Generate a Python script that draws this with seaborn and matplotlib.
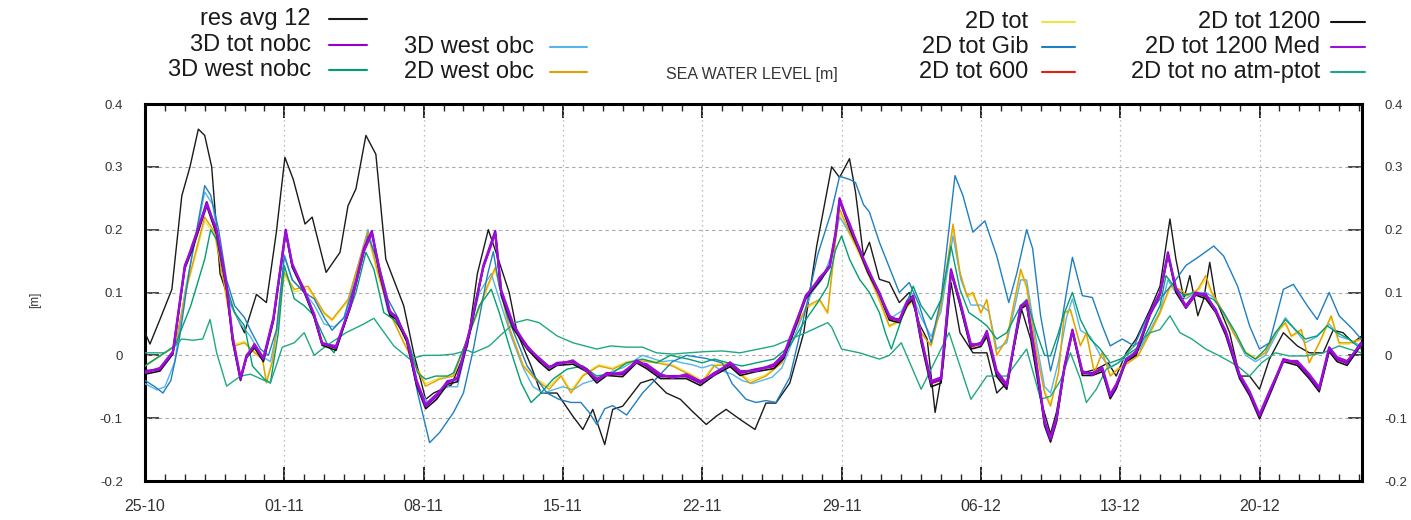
import pandas as pd
import matplotlib
matplotlib.use("Agg")
import matplotlib.pyplot as plt
import matplotlib.dates as mdates
from matplotlib.lines import Line2D
import seaborn as sns

START = pd.Timestamp("2019-10-25")

# ---- sea level residuals [m]; times are days after START ----
t_obs = [0, 0.25, 0.75, 1.35, 1.85, 2.26, 2.68, 3.0, 3.35, 3.77, 4.27, 5.0, 5.6, 6.1, 6.6,
         7.03, 7.45, 8.04, 8.4, 9.1, 9.8, 10.2, 10.6, 11.1, 11.6, 12.1, 13.0, 13.5, 14.1, 14.5,
         15.4, 16.2, 16.7, 17.25, 17.7, 18.3, 18.7, 19.4, 19.9, 20.7, 21.5, 22.0, 22.5, 23.1,
         23.5, 24.0, 24.9, 25.5, 26.2, 26.9, 27.5, 28.2, 28.7, 29.2, 29.9, 30.65, 31.2, 31.7,
         32.4, 33.1, 33.75, 34.5, 34.9, 35.4, 35.7, 36.1, 36.4, 36.9, 37.4, 37.9, 38.4, 38.95,
         39.3, 39.7, 40.1, 40.5, 40.95, 41.6, 42.3, 42.8, 43.3, 44.05, 44.5, 45.0, 45.5, 45.8,
         46.2, 46.6, 47.1, 47.8, 48.4, 48.8, 49.3, 49.8, 50.5, 51.0, 51.5, 51.8, 52.2, 52.5,
         52.9, 53.2, 53.5, 53.8, 54.5, 55.0, 55.5, 56.0, 56.5, 57.2, 57.9, 58.5, 59.2, 59.7,
         60.2, 60.7, 61.1]
res_avg_12 = [0.036, 0.018, 0.057, 0.105, 0.254, 0.300, 0.360, 0.350, 0.300, 0.130, 0.084,
              0.036, 0.097, 0.084, 0.196, 0.315, 0.280, 0.209, 0.220, 0.132, 0.164, 0.238,
              0.265, 0.350, 0.320, 0.153, 0.079, 0.004, -0.070, -0.060, -0.047, 0.015, 0.130,
              0.200, 0.158, 0.100, 0.036, -0.017, -0.060, -0.060, -0.097, -0.118, -0.086,
              -0.142, -0.086, -0.081, -0.044, -0.038, -0.060, -0.070, -0.089, -0.110, -0.097,
              -0.086, -0.102, -0.118, -0.076, -0.076, -0.044, 0.036, 0.174, 0.300, 0.283,
              0.313, 0.260, 0.158, 0.180, 0.121, 0.116, 0.084, 0.100, 0.047, 0.026, -0.091,
              -0.017, 0.116, 0.036, 0.004, 0.004, -0.060, -0.044, 0.073, 0.026, -0.070,
              -0.125, -0.090, -0.017, 0.040, -0.028, -0.022, -0.012, -0.033, 0.004, 0.026,
              0.073, 0.110, 0.217, 0.153, 0.090, 0.127, 0.063, 0.090, 0.148, 0.090, 0.036,
              -0.033, -0.033, -0.054, -0.006, 0.036, 0.015, 0.004, 0.004, 0.040, 0.036, 0.020,
              0.030]

t_tot = [0, 0.75, 1.4, 2.0, 2.4, 3.1, 3.6, 4.1, 4.4, 4.8, 5.1, 5.5, 5.95, 6.45, 7.07, 7.4,
         8.0, 8.5, 8.9, 9.6, 10.3, 11.0, 11.4, 11.8, 12.3, 12.6, 13.15, 13.65, 14.1, 14.65,
         15.2, 15.7, 16.3, 17.0, 17.6, 17.9, 18.5, 19.2, 19.8, 20.3, 20.7, 21.5, 22.2, 22.7,
         23.2, 24.0, 24.7, 25.2, 25.9, 26.5, 27.2, 27.9, 28.6, 29.4, 29.9, 30.7, 31.6, 32.1,
         32.6, 33.2, 33.9, 34.4, 34.7, 34.9, 35.4, 35.9, 36.3, 36.9, 37.4, 37.9, 38.3, 38.6,
         39.0, 39.5, 40.0, 40.5, 40.95, 41.5, 42.0, 42.3, 42.8, 43.3, 44.0, 44.3, 44.8, 45.2,
         45.5, 45.8, 46.2, 46.6, 47.1, 47.6, 48.1, 48.5, 48.8, 49.3, 49.8, 50.5, 51.0, 51.4,
         51.8, 52.3, 52.8, 53.3, 53.8, 54.3, 55.0, 55.5, 56.0, 56.5, 57.2, 57.9, 58.5, 59.0,
         59.5, 59.9, 60.4, 61.1]
tot_3d_nobc = [-0.025, -0.022, 0.004, 0.143, 0.174, 0.244, 0.196, 0.110, 0.026, -0.038,
               0.000, 0.015, -0.006, 0.057, 0.200, 0.143, 0.105, 0.063, 0.020, 0.012,
               0.079, 0.170, 0.198, 0.132, 0.068, 0.063, 0.026, -0.044, -0.081, -0.065,
               -0.041, -0.038, 0.036, 0.143, 0.198, 0.100, 0.047, 0.015, -0.006, -0.020,
               -0.012, -0.010, -0.022, -0.040, -0.028, -0.030, -0.008, -0.017, -0.033, -0.033,
               -0.033, -0.044, -0.028, -0.014, -0.028, -0.022, -0.017, -0.001, 0.041, 0.095,
               0.121, 0.143, 0.196, 0.250, 0.206, 0.170, 0.137, 0.100, 0.060, 0.057,
               0.084, 0.095, 0.026, -0.044, -0.038, 0.137, 0.084, 0.015, 0.020, 0.036,
               -0.028, -0.049, 0.079, 0.084, -0.017, -0.107, -0.134, -0.102, -0.017, 0.041,
               -0.028, -0.028, -0.022, -0.065, -0.049, -0.006, 0.004, 0.068, 0.100, 0.164,
               0.105, 0.079, 0.100, 0.095, 0.073, 0.036, -0.033, -0.060, -0.097, -0.060,
               -0.006, -0.012, -0.033, -0.054, 0.010, -0.006, -0.012, 0.020]
tot_2d_1200_med = [-0.028, -0.020, 0.006, 0.140, 0.178, 0.240, 0.200, 0.112, 0.030, -0.035,
                   -0.003, 0.018, -0.004, 0.060, 0.196, 0.146, 0.102, 0.066, 0.018, 0.015,
                   0.076, 0.166, 0.194, 0.135, 0.071, 0.060, 0.028, -0.040, -0.078, -0.062,
                   -0.044, -0.035, 0.039, 0.140, 0.194, 0.104, 0.050, 0.012, -0.004, -0.018,
                   -0.015, -0.008, -0.025, -0.037, -0.031, -0.027, -0.011, -0.014, -0.030, -0.036,
                   -0.030, -0.041, -0.031, -0.011, -0.025, -0.025, -0.014, 0.002, 0.044, 0.092,
                   0.124, 0.140, 0.192, 0.245, 0.210, 0.167, 0.140, 0.097, 0.063, 0.054,
                   0.087, 0.092, 0.029, -0.041, -0.035, 0.133, 0.087, 0.018, 0.017, 0.039,
                   -0.025, -0.046, 0.076, 0.087, -0.014, -0.104, -0.131, -0.099, -0.020, 0.038,
                   -0.025, -0.031, -0.019, -0.062, -0.046, -0.009, 0.007, 0.065, 0.097, 0.160,
                   0.108, 0.076, 0.097, 0.098, 0.070, 0.039, -0.030, -0.057, -0.094, -0.057,
                   -0.009, -0.009, -0.030, -0.051, 0.013, -0.003, -0.009, 0.017]
tot_2d_1200 = [-0.030, -0.025, 0.002, 0.138, 0.170, 0.238, 0.192, 0.105, 0.022, -0.040,
               -0.004, 0.012, -0.010, 0.054, 0.195, 0.140, 0.100, 0.060, 0.016, 0.008,
               0.075, 0.165, 0.195, 0.128, 0.064, 0.058, 0.022, -0.048, -0.085, -0.070,
               -0.046, -0.042, 0.032, 0.140, 0.195, 0.095, 0.043, 0.010, -0.010, -0.024,
               -0.016, -0.014, -0.026, -0.044, -0.032, -0.034, -0.012, -0.021, -0.037, -0.037,
               -0.037, -0.048, -0.032, -0.018, -0.032, -0.026, -0.021, -0.005, 0.037, 0.090,
               0.118, 0.140, 0.192, 0.246, 0.202, 0.165, 0.133, 0.096, 0.056, 0.052,
               0.080, 0.090, 0.020, -0.050, -0.044, 0.132, 0.080, 0.010, 0.014, 0.030,
               -0.034, -0.054, 0.074, 0.080, -0.022, -0.112, -0.138, -0.106, -0.021, 0.037,
               -0.032, -0.032, -0.026, -0.069, -0.053, -0.010, 0.000, 0.064, 0.096, 0.160,
               0.100, 0.075, 0.096, 0.090, 0.068, 0.032, -0.037, -0.064, -0.101, -0.064,
               -0.010, -0.016, -0.037, -0.058, 0.006, -0.010, -0.016, 0.016]
tot_2d_600 = [-0.026, -0.023, 0.003, 0.141, 0.172, 0.242, 0.194, 0.108, 0.024, -0.037,
              -0.002, 0.014, -0.007, 0.056, 0.198, 0.142, 0.103, 0.062, 0.018, 0.011,
              0.077, 0.168, 0.196, 0.130, 0.066, 0.061, 0.024, -0.043, -0.080, -0.064,
              -0.042, -0.037, 0.035, 0.141, 0.196, 0.098, 0.045, 0.013, -0.007, -0.019,
              -0.013, -0.011, -0.023, -0.039, -0.029, -0.031, -0.009, -0.018, -0.034, -0.034,
              -0.034, -0.043, -0.029, -0.015, -0.029, -0.023, -0.018, -0.002, 0.040, 0.093,
              0.120, 0.142, 0.194, 0.247, 0.204, 0.168, 0.135, 0.098, 0.058, 0.055,
              0.082, 0.093, 0.024, -0.045, -0.040, 0.135, 0.082, 0.013, 0.018, 0.034,
              -0.030, -0.050, 0.077, 0.082, -0.019, -0.108, -0.133, -0.103, -0.019, 0.039,
              -0.029, -0.029, -0.023, -0.066, -0.050, -0.008, 0.002, 0.066, 0.098, 0.162,
              0.103, 0.077, 0.098, 0.093, 0.071, 0.034, -0.034, -0.061, -0.098, -0.061,
              -0.008, -0.013, -0.034, -0.055, 0.008, -0.007, -0.013, 0.018]

t_west2d = [0, 1.5, 2.1, 3.0, 3.5, 4.0, 4.5, 5.0, 5.5, 5.9, 6.1, 6.4, 7.0, 7.5, 8.2, 9.0, 9.4,
            10.2, 11.2, 11.7, 12.3, 13.0, 14.1, 14.8, 15.5, 16.3, 17.2, 17.6, 18.3, 19.0,
            19.6, 20.3, 20.9, 21.4, 22.0, 22.8, 23.5, 24.2, 25.0, 25.7, 26.5, 27.5, 28.0,
            28.6, 29.3, 30.0, 30.4, 31.2, 32.0, 32.6, 33.3, 33.9, 34.3, 34.7, 34.9, 35.4,
            35.9, 36.4, 36.9, 37.4, 37.9, 38.3, 38.6, 39.0, 39.5, 40.0, 40.6, 40.95, 41.3,
            41.6, 42.0, 42.3, 42.8, 43.3, 44.0, 44.3, 44.8, 45.2, 45.5, 45.9, 46.2, 46.5,
            47.0, 47.3, 47.7, 48.1, 48.5, 48.9, 49.4, 49.9, 50.5, 51.0, 51.5, 52.0, 52.4,
            52.9, 53.3, 53.6, 54.2, 54.7, 55.3, 55.8, 56.3, 56.8, 57.3, 57.6, 58.1, 58.5,
            59.0, 59.6, 60.0, 60.5, 61.1]
west_2d_obc = [-0.017, 0.015, 0.110, 0.220, 0.196, 0.110, 0.015, 0.020, 0.004, -0.006,
               -0.044, -0.010, 0.132, 0.105, 0.110, 0.068, 0.057, 0.089, 0.196, 0.132,
               0.068, 0.020, -0.049, -0.038, -0.033, 0.036, 0.110, 0.140, 0.045, -0.017,
               -0.038, -0.054, -0.033, -0.060, -0.033, -0.017, -0.022, -0.012, -0.009, -0.012,
               -0.017, -0.033, -0.044, -0.017, -0.014, -0.033, -0.044, -0.033, -0.012, 0.041,
               0.079, 0.089, 0.068, 0.185, 0.233, 0.196, 0.164, 0.127, 0.089, 0.047,
               0.055, 0.079, 0.090, 0.036, 0.015, 0.080, 0.209, 0.132, 0.095, 0.100,
               0.068, 0.089, 0.000, 0.026, 0.137, 0.110, 0.004, -0.060, -0.081, -0.028,
               0.068, 0.073, 0.015, 0.036, -0.028, 0.004, -0.033, -0.022, -0.012, -0.001,
               0.036, 0.068, 0.110, 0.105, 0.095, 0.105, 0.127, 0.100, 0.068, 0.036,
               0.004, -0.006, 0.004, 0.036, 0.052, 0.031, 0.041, -0.012, 0.020, 0.063,
               0.020, 0.020, 0.026]
tot_2d = [-0.015, 0.013, 0.106, 0.214, 0.192, 0.106, 0.018, 0.022, 0.006, -0.004,
          -0.040, -0.008, 0.128, 0.101, 0.106, 0.066, 0.055, 0.086, 0.190, 0.128,
          0.066, 0.022, -0.045, -0.036, -0.031, 0.034, 0.106, 0.136, 0.043, -0.015,
          -0.036, -0.050, -0.031, -0.056, -0.031, -0.015, -0.020, -0.010, -0.007, -0.010,
          -0.015, -0.031, -0.040, -0.015, -0.012, -0.031, -0.040, -0.031, -0.010, 0.039,
          0.076, 0.086, 0.066, 0.180, 0.226, 0.192, 0.160, 0.124, 0.086, 0.045,
          0.053, 0.076, 0.087, 0.034, 0.017, 0.078, 0.202, 0.128, 0.092, 0.097,
          0.066, 0.086, 0.002, 0.024, 0.132, 0.106, 0.006, -0.056, -0.077, -0.026,
          0.066, 0.070, 0.017, 0.034, -0.026, 0.006, -0.031, -0.020, -0.010, 0.001,
          0.034, 0.066, 0.106, 0.101, 0.092, 0.101, 0.122, 0.097, 0.066, 0.034,
          0.006, -0.004, 0.006, 0.034, 0.050, 0.029, 0.039, -0.010, 0.018, 0.060,
          0.018, 0.018, 0.024]

t_west3d = [0, 1.5, 2.3, 3.0, 3.3, 3.6, 4.1, 4.5, 5.0, 5.4, 6.0, 6.3, 6.7, 7.0, 7.5, 8.0,
            8.5, 9.2, 9.5, 10.0, 10.6, 11.1, 11.5, 12.0, 12.5, 13.2, 13.7, 14.1, 14.6, 15.2,
            15.5, 16.2, 16.8, 17.4, 17.8, 18.3, 18.9, 19.4, 19.9, 20.5, 21.2, 22.0, 22.7,
            23.5, 24.2, 25.0, 25.7, 26.4, 27.3, 28.0, 28.6, 29.3, 30.0, 30.7, 31.6, 32.4,
            33.1, 33.8, 34.3, 34.7, 35.0, 35.4, 35.9, 36.4, 36.9, 37.2, 37.5, 37.9, 38.3,
            38.6, 39.0, 39.5, 40.0, 40.5, 40.95, 41.4, 41.9, 42.3, 42.8, 43.3, 44.0, 44.3,
            44.8, 45.2, 45.5, 45.9, 46.2, 46.6, 47.0, 47.5, 48.0, 48.5, 49.0, 49.5, 50.0,
            50.5, 51.0, 51.3, 51.7, 52.2, 52.7, 53.2, 53.7, 54.2, 54.8, 55.3, 55.8, 56.3,
            56.8, 57.3, 57.8, 58.3, 58.9, 59.4, 59.9, 60.5, 61.1]
west_3d_nobc = [-0.017, 0.015, 0.079, 0.153, 0.200, 0.184, 0.110, 0.068, 0.047, -0.017,
                -0.038, -0.044, 0.036, 0.143, 0.090, 0.079, 0.063, 0.015, 0.004, 0.047,
                0.100, 0.164, 0.137, 0.068, 0.057, 0.026, -0.028, -0.038, -0.033, -0.033,
                -0.028, 0.026, 0.079, 0.105, 0.068, 0.015, -0.044, -0.075, -0.060, -0.038,
                -0.022, -0.017, -0.033, -0.028, -0.012, -0.006, -0.012, 0.000, -0.006, -0.012,
                -0.006, -0.012, -0.017, -0.012, -0.006, 0.015, 0.052, 0.084, 0.110, 0.168,
                0.190, 0.153, 0.121, 0.100, 0.068, 0.036, 0.010, 0.047, 0.084, 0.110,
                0.079, 0.057, 0.089, 0.174, 0.105, 0.068, 0.057, 0.047, 0.026, 0.036,
                0.079, 0.089, 0.036, 0.000, -0.001, 0.036, 0.068, 0.100, 0.057, 0.026,
                0.010, -0.012, -0.006, 0.004, 0.015, 0.047, 0.079, 0.127, 0.110, 0.095,
                0.100, 0.095, 0.089, 0.068, 0.036, 0.004, -0.006, 0.010, 0.036, 0.057,
                0.041, 0.026, 0.031, 0.047, 0.036, 0.026, 0.010]

t_west3d_obc = [0, 0.6, 1.0, 1.5, 2.0, 2.5, 3.0, 3.4, 3.8, 4.3, 4.8, 5.3, 5.8, 6.3, 6.7, 7.0,
                7.4, 8.0, 8.5, 9.0, 9.5, 10.0, 10.5, 11.2, 11.7, 12.2, 12.7, 13.2, 13.7, 14.2,
                14.7, 15.2, 15.7, 16.2, 16.8, 17.4, 17.9, 18.4, 19.0, 19.5, 20.0, 20.5, 21.0,
                21.5, 22.0, 22.5, 23.0, 23.5, 24.0, 24.5, 25.0, 25.5, 26.0, 26.5, 27.0, 27.5,
                28.0, 28.5, 29.0, 29.5, 30.0, 30.5, 31.0, 31.5, 32.0, 32.5, 33.0, 33.5, 34.0,
                34.5, 34.9, 35.5, 36.0, 36.5, 37.0, 37.5, 38.0, 38.5, 39.0, 39.5, 40.0, 40.6,
                41.0, 41.5, 42.0, 42.4, 42.8, 43.3, 44.0, 44.3, 44.8, 45.2, 45.5, 45.9, 46.3,
                46.6, 47.0, 47.5, 48.0, 48.5, 49.0, 49.5, 50.0, 50.5, 51.0, 51.4, 51.8, 52.3,
                52.8, 53.3, 53.8, 54.3, 54.8, 55.3, 55.8, 56.3, 56.8, 57.3, 57.8, 58.3, 58.9,
                59.5, 60.0, 60.5, 61.1]
west_3d_obc = [-0.045, -0.055, -0.050, -0.010, 0.100, 0.180, 0.260, 0.240, 0.160, 0.080,
               0.050, 0.030, 0.000, -0.010, 0.050, 0.160, 0.120, 0.100, 0.080, 0.050,
               0.045, 0.060, 0.120, 0.200, 0.140, 0.070, 0.060, 0.020, -0.050, -0.075,
               -0.060, -0.050, -0.050, 0.020, 0.100, 0.130, 0.080, 0.030, -0.020, -0.050,
               -0.060, -0.055, -0.050, -0.055, -0.045, -0.040, -0.035, -0.025, -0.020, -0.010,
               0.000, -0.005, -0.010, -0.008, -0.012, -0.015, -0.020, -0.015, -0.025, -0.030,
               -0.040, -0.045, -0.040, -0.035, -0.020, 0.020, 0.060, 0.100, 0.120, 0.160,
               0.220, 0.190, 0.160, 0.120, 0.090, 0.060, 0.070, 0.100, 0.060, 0.030,
               0.070, 0.190, 0.120, 0.080, 0.080, 0.070, 0.010, 0.020, 0.120, 0.120,
               0.020, -0.050, -0.060, -0.010, 0.060, 0.090, 0.040, 0.030, 0.000, -0.020,
               -0.010, 0.000, 0.010, 0.040, 0.070, 0.120, 0.100, 0.090, 0.100, 0.100,
               0.090, 0.060, 0.030, 0.000, -0.010, 0.000, 0.030, 0.060, 0.040, 0.020,
               0.030, 0.050, 0.030, 0.025, 0.015]

t_gib = [0, 0.5, 0.9, 1.3, 1.7, 2.2, 2.6, 3.0, 3.3, 3.7, 4.1, 4.5, 5.0, 5.3, 5.8, 6.2, 6.6,
         7.0, 7.4, 8.0, 8.5, 9.0, 9.4, 10.0, 10.6, 11.2, 11.7, 12.2, 12.7, 13.2, 13.7, 14.3,
         14.8, 15.5, 16.0, 16.5, 17.2, 17.5, 17.8, 18.2, 19.2, 20.2, 20.8, 21.4, 21.9, 22.3,
         22.7, 23.1, 23.5, 24.2, 25.0, 25.9, 26.5, 27.2, 28.2, 29.0, 29.5, 30.2, 30.7, 31.2,
         31.7, 32.4, 33.1, 33.8, 34.5, 34.9, 35.4, 35.7, 36.1, 36.4, 36.9, 37.4, 37.9, 38.4,
         38.9, 39.5, 40.0, 40.7, 41.1, 41.6, 42.2, 42.8, 43.4, 43.8, 44.3, 44.6, 45.0, 45.5,
         45.97, 46.3, 46.6, 47.1, 47.6, 48.1, 48.5, 49.1, 49.7, 50.3, 51.0, 51.7, 52.3, 53.0,
         53.7, 54.2, 54.9, 55.5, 56.0, 56.5, 57.2, 57.7, 58.4, 58.9, 59.5, 60.0, 60.7, 61.1]
tot_2d_gib = [-0.040, -0.050, -0.060, -0.040, 0.020, 0.130, 0.200, 0.270, 0.255, 0.200,
              0.120, 0.079, 0.060, 0.040, 0.010, 0.000, 0.040, 0.158, 0.120, 0.100,
              0.090, 0.060, 0.040, 0.060, 0.120, 0.190, 0.150, 0.090, 0.060, 0.020,
              -0.060, -0.139, -0.123, -0.091, -0.060, 0.010, 0.127, 0.165, 0.110, 0.063,
              -0.017, -0.060, -0.070, -0.075, -0.075, -0.090, -0.110, -0.085, -0.080, -0.095,
              -0.060, -0.030, -0.010, 0.000, -0.005, -0.012, -0.045, -0.070, -0.075, -0.072,
              -0.075, -0.035, 0.060, 0.160, 0.230, 0.285, 0.280, 0.275, 0.240, 0.228,
              0.180, 0.140, 0.100, 0.116, 0.080, 0.020, 0.090, 0.286, 0.254, 0.196,
              0.214, 0.158, 0.084, 0.130, 0.200, 0.170, 0.063, -0.025, 0.036, 0.100,
              0.156, 0.095, 0.092, 0.047, 0.015, 0.026, 0.015, 0.057, 0.090, 0.116,
              0.143, 0.158, 0.174, 0.158, 0.110, 0.047, 0.010, 0.020, 0.105, 0.113,
              0.079, 0.057, 0.100, 0.063, 0.041, 0.026]

t_noatm = [0, 1.0, 1.5, 1.85, 2.4, 2.9, 3.27, 3.6, 4.1, 4.8, 5.3, 6.0, 6.3, 6.9, 7.5, 8.0,
           8.5, 9.1, 10.1, 11.0, 11.5, 12.5, 13.3, 14.0, 14.8, 15.5, 16.2, 16.5, 17.3, 18.0,
           18.6, 19.2, 19.8, 20.7, 21.5, 22.7, 23.4, 24.2, 25.0, 25.7, 26.5, 27.3, 28.2,
           29.0, 29.9, 31.6, 33.2, 34.3, 34.5, 35.0, 35.9, 36.9, 37.4, 38.0, 39.0, 40.4,
           41.5, 42.3, 43.3, 44.3, 45.0, 45.5, 46.0, 46.5, 47.0, 47.3, 47.8, 48.3, 48.9,
           49.7, 50.5, 51.0, 51.5, 52.0, 52.6, 53.3, 54.0, 54.9, 55.5, 56.1, 56.8, 57.5,
           58.3, 59.2, 60.0, 61.1]
tot_2d_no_atm = [0.004, 0.004, 0.015, 0.026, 0.024, 0.026, 0.057, 0.004, -0.049, -0.033,
                 -0.030, -0.040, -0.044, 0.013, 0.020, 0.036, 0.000, 0.015, 0.036, 0.050,
                 0.059, 0.015, -0.006, 0.000, 0.000, 0.002, 0.008, 0.004, 0.015, 0.036,
                 0.052, 0.057, 0.052, 0.031, 0.020, 0.010, 0.015, 0.013, 0.013, 0.004,
                 0.002, 0.004, 0.006, 0.007, 0.004, 0.015, 0.036, 0.052, 0.045, 0.010,
                 0.004, -0.006, 0.000, 0.020, -0.054, 0.036, -0.070, -0.033, -0.033, 0.010,
                 -0.070, -0.065, -0.040, 0.004, -0.038, -0.075, -0.054, -0.022, -0.012, 0.015,
                 0.036, 0.041, 0.063, 0.036, 0.026, 0.010, -0.001, -0.017, -0.033, -0.012,
                 0.004, -0.001, -0.001, 0.004, 0.015, 0.004]

week_labels = ["25-10", "01-11", "08-11", "15-11", "22-11", "29-11", "06-12", "13-12", "20-12"]
y_ticks = [-0.2, -0.1, 0, 0.1, 0.2, 0.3, 0.4]
y_tick_labels = ["-0.2", "-0.1", "0", "0.1", "0.2", "0.3", "0.4"]

# label, times, values, colour, width, stacking order
series = [
    ("2D tot 600", t_tot, tot_2d_600, "#e51e10", 1.0, 2.0),
    ("2D tot", t_west2d, tot_2d, "#f0e442", 1.0, 2.1),
    ("res avg 12", t_obs, res_avg_12, "#1a1a1a", 1.0, 3.0),
    ("3D west obc", t_west3d_obc, west_3d_obc, "#56b4e9", 1.0, 3.1),
    ("2D west obc", t_west2d, west_2d_obc, "#e69f00", 1.0, 3.2),
    ("2D tot Gib", t_gib, tot_2d_gib, "#1f7fc0", 1.0, 3.3),
    ("3D west nobc", t_west3d, west_3d_nobc, "#009e73", 1.0, 3.4),
    ("2D tot no atm-ptot", t_noatm, tot_2d_no_atm, "#1fa883", 1.0, 3.5),
    ("2D tot 1200", t_tot, tot_2d_1200, "#111111", 1.2, 4.0),
    ("3D tot nobc", t_tot, tot_3d_nobc, "#9400d3", 1.6, 4.5),
    ("2D tot 1200 Med", t_tot, tot_2d_1200_med, "#9a10d8", 1.6, 4.6),
]

sns.set_theme(style="white")
plt.rcParams["font.family"] = ["Liberation Sans", "DejaVu Sans"]

W, H = 1411, 520
fig = plt.figure(figsize=(W / 100, H / 100), dpi=100)
fig.patch.set_facecolor("white")
ax = fig.add_axes([145 / W, 1 - 481 / H, (1362 - 145) / W, (481 - 104) / H])
ax.set_facecolor("white")

for label, tt, vv, col, lw, z in series:
    frame = pd.DataFrame({"time": START + pd.to_timedelta(tt, unit="D"), "level": vv})
    sns.lineplot(data=frame, x="time", y="level", ax=ax, color=col, lw=lw,
                 estimator=None, sort=False, legend=False, zorder=z)

ax.set_xlim(START, START + pd.Timedelta(days=61.15))
ax.set_ylim(-0.2, 0.4)
ax.set_xlabel("")
ax.set_ylabel("")

week_pos = [START + pd.Timedelta(days=7 * k) for k in range(len(week_labels))]
ax.set_xticks(week_pos)
ax.set_xticklabels(week_labels)
ax.xaxis.set_minor_locator(mdates.DayLocator(interval=1))
ax.set_yticks(y_ticks)
ax.set_yticklabels(y_tick_labels)

ax.grid(False)
for yv in y_ticks[1:-1]:
    ax.axhline(yv, color="#a8a8a8", lw=0.8, ls=(0, (3, 3)), zorder=1)
for xp in week_pos[1:]:
    ax.axvline(xp, color="#a8a8a8", lw=0.9, ls=(0, (1, 3)), zorder=1)

for s in ax.spines.values():
    s.set_color("black")
    s.set_linewidth(2.2)
ax.tick_params(axis="x", which="major", direction="in", length=10, width=1.2,
               top=True, bottom=True, labelsize=11.5, pad=13, colors="black",
               labelcolor="#333333")
ax.tick_params(axis="x", which="minor", direction="in", length=5, width=1.0,
               top=True, bottom=True)
ax.tick_params(axis="y", which="major", direction="in", length=10, width=1.2,
               left=True, right=True, labelleft=True, labelright=True,
               labelsize=9.5, pad=16, labelcolor="#333333")

fig.text(35 / W, 1 - 300 / H, "[m]", rotation=90, ha="center", va="center",
         fontsize=8.5, color="#333333")
fig.text(752 / W, 1 - 75 / H, "SEA WATER LEVEL [m]", ha="center", va="center",
         fontsize=11.5, color="#333333")

# key, arranged in columns: text right-aligned, sample line to its right
colours = {lab: col for lab, _, _, col, _, _ in series}
key_cols = [
    (311, 329, 367, [("res avg 12", 19), ("3D tot nobc", 45), ("3D west nobc", 70)]),
    (534, 550, 587, [("3D west obc", 47), ("2D west obc", 72)]),
    (1028, 1042, 1075, [("2D tot", 22), ("2D tot Gib", 47), ("2D tot 600", 72)]),
    (1320, 1331, 1365, [("2D tot 1200", 22), ("2D tot 1200 Med", 47),
                        ("2D tot no atm-ptot", 72)]),
]
for x_text, x0, x1, rows in key_cols:
    for lab, yrow in rows:
        fig.text(x_text / W, 1 - yrow / H, lab, ha="right", va="center",
                 fontsize=17, color="#1a1a1a")
        fig.add_artist(Line2D([x0 / W, x1 / W], [1 - yrow / H, 1 - yrow / H],
                              color=colours[lab], lw=1.5, transform=fig.transFigure))

fig.savefig("out.png", dpi=100, facecolor="white")
